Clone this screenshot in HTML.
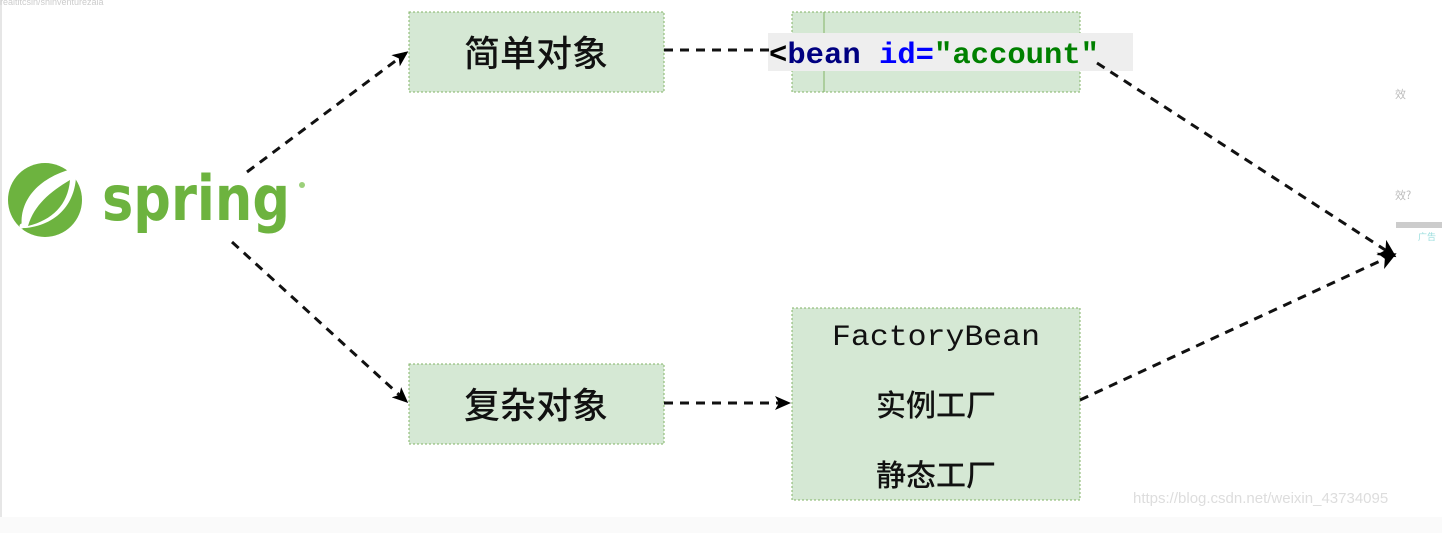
<!DOCTYPE html>
<html><head><meta charset="utf-8"><style>
body{margin:0;width:1442px;height:533px;overflow:hidden;background:#fff;}
</style></head><body>
<svg width="1442" height="533" xmlns="http://www.w3.org/2000/svg" style="position:absolute;left:0;top:0">
<defs><marker id="a" markerWidth="16" markerHeight="16" refX="13" refY="8" orient="auto" markerUnits="userSpaceOnUse" viewBox="0 0 16 16"><path d="M0,1 L16,8 L0,15 L4,8z" fill="#000"/></marker>
<marker id="b" markerWidth="18" markerHeight="18" refX="14" refY="9" orient="auto" markerUnits="userSpaceOnUse" viewBox="0 0 18 18"><path d="M0,0 L18,9 L0,18 L5,9z" fill="#000"/></marker></defs>
<rect x="0" y="0" width="2" height="517" fill="#e6e6e6"/>
<rect x="1390" y="0" width="52" height="533" fill="#fff"/>
<rect x="0" y="517" width="1442" height="16" fill="#fafafa"/>
<rect x="1396" y="222" width="46" height="6" fill="#ccc"/>
<text x="0" y="5" font-family="Liberation Sans" font-size="9" fill="#ccc">realtitcsin/shinventurezala</text>
<text x="1395" y="98" font-family="Noto Sans CJK SC,sans-serif" font-size="11" fill="#bbb">效</text>
<text x="1395" y="199" font-family="Noto Sans CJK SC,sans-serif" font-size="11" fill="#bbb">效?</text>
<text x="1418" y="240" font-family="Noto Sans CJK SC,sans-serif" font-size="9" fill="#9dd">广告</text>
<g fill="#d5e8d4" stroke="#82b366" stroke-dasharray="2,2">
<rect x="409" y="12" width="255" height="80"/>
<rect x="792" y="12" width="288" height="80"/>
<rect x="409" y="364" width="255" height="80"/>
<rect x="792" y="308" width="288" height="192"/>
</g>
<line x1="824" y1="12" x2="824" y2="92" stroke="#82b366" stroke-width="1"/>
<rect x="768" y="33" width="365" height="38" fill="#eeeeee"/>
<text x="769" y="63" font-family="Liberation Mono,monospace" font-size="30" font-weight="bold" textLength="330" lengthAdjust="spacingAndGlyphs"><tspan fill="#000">&lt;</tspan><tspan fill="#000080">bean </tspan><tspan fill="#0000ff">id=</tspan><tspan fill="#008000">"account"</tspan></text>
<g font-family="Liberation Sans,Noto Sans CJK SC,sans-serif" font-size="36" fill="#111" text-anchor="middle" font-weight="500">
<text x="536" y="66">简单对象</text>
<text x="536" y="418">复杂对象</text>
</g>
<g font-family="Liberation Sans,Noto Sans CJK SC,sans-serif" font-size="30" fill="#111" text-anchor="middle" font-weight="500">
<text x="936" y="345" font-family="Liberation Mono,monospace" font-size="30" textLength="208" lengthAdjust="spacingAndGlyphs">FactoryBean</text>
<text x="936" y="416">实例工厂</text>
<text x="936" y="486">静态工厂</text>
</g>
<g stroke="#111" stroke-width="3" stroke-dasharray="9,7" fill="none">
<line x1="247" y1="172" x2="406" y2="53" marker-end="url(#a)"/>
<line x1="232" y1="242" x2="406" y2="401" marker-end="url(#a)"/>
<line x1="664" y1="50" x2="770" y2="50"/>
<line x1="664" y1="403" x2="788" y2="403" marker-end="url(#a)"/>
<line x1="1097" y1="63" x2="1393" y2="255" marker-end="url(#b)"/>
<line x1="1080" y1="400" x2="1393" y2="255" marker-end="url(#b)"/>
</g>
<circle cx="45" cy="200" r="37" fill="#6db33f"/>
<path d="M22,228 C18,200 40,176 76,168 C78,200 60,224 26,228z" fill="#fff"/>
<path d="M28,226 C34,205 50,192 70,180 C68,205 52,220 28,226z" fill="#6db33f"/>
<circle cx="22" cy="226" r="2.5" fill="#fff"/>
<text x="102" y="220" font-family="DejaVu Sans,Liberation Sans,sans-serif" font-size="62" font-weight="bold" fill="#6db33f" textLength="188" lengthAdjust="spacingAndGlyphs">spring</text>
<circle cx="302" cy="185" r="3" fill="#9cd07a"/>
<text x="1133" y="503" font-family="Liberation Sans,sans-serif" font-size="15" fill="#ddd">https://blog.csdn.net/weixin_43734095</text>
</svg>
</body></html>
